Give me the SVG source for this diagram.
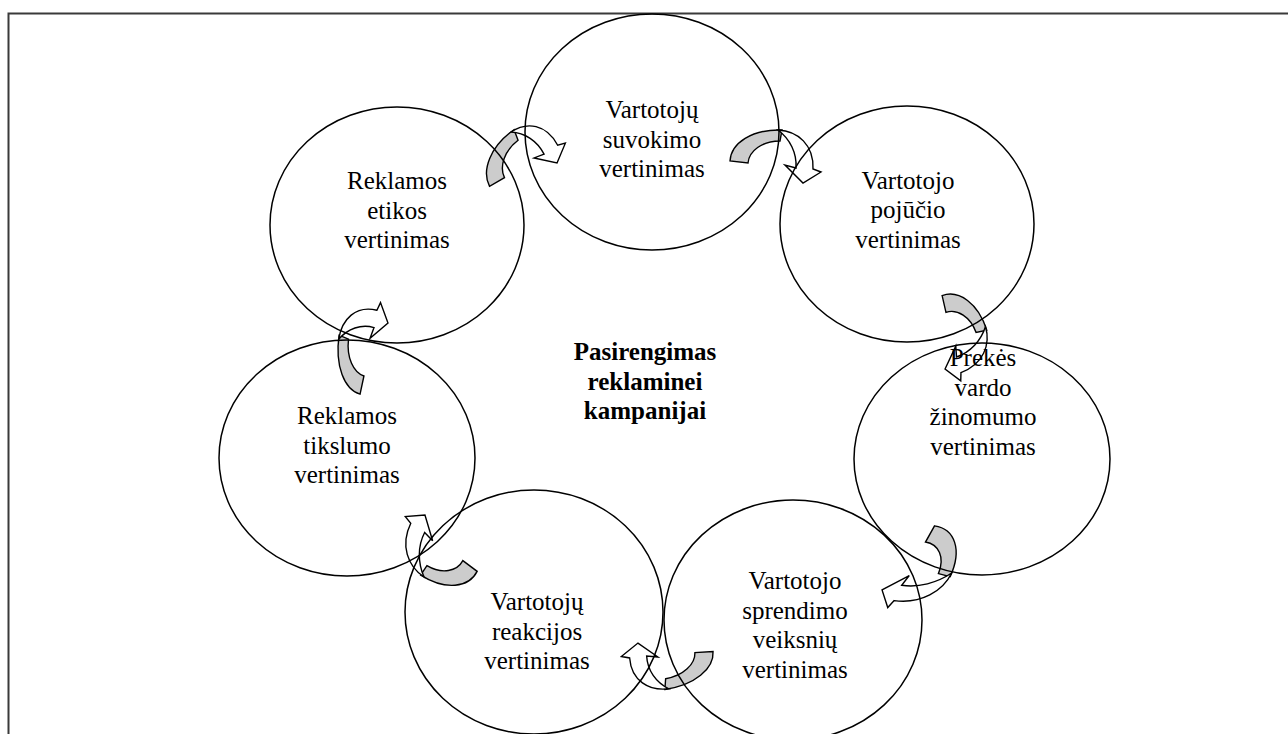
<svg xmlns="http://www.w3.org/2000/svg" xmlns:xlink="http://www.w3.org/1999/xlink" width="1288" height="734" viewBox="0 0 1288 734">
<style>
.node ellipse{fill:none;stroke:#000;stroke-width:1.5}
text{font-family:'Liberation Serif','Tinos','Times New Roman','DejaVu Serif',serif;font-size:25px;fill:#000;text-anchor:middle}
.ctr{font-weight:bold}
.back{fill:#cccccc;stroke:#000;stroke-width:1.4;vector-effect:non-scaling-stroke}
.front{fill:#ffffff;stroke:#000;stroke-width:1.4;vector-effect:non-scaling-stroke}
</style>
<defs>
<g id="carrow">
<path class="back" d="M0,32 C1,14 22,0 52,1 L50,12 C32,12 19,22 18,34 Z"/>
<path class="front" d="M48,1 C68,2 84,16 83,40 L91,43 L73,54 L55,36 L66,39 C67,24 60,10 48,1 Z"/>
</g>
</defs>
<rect width="1288" height="734" fill="#fff"/>
<g id="frame" fill="none" stroke="#3a3a3a" stroke-width="2">
<path d="M8.5,734 L8.5,13.5 L1288,13.5"/>
</g>
<g id="connectors">
<use xlink:href="#carrow" transform="matrix(0.772,-0.578,0.505,0.857,473.4,158.9)"/>
<use xlink:href="#carrow" transform="matrix(1,0,0,1,730,129)"/>
<use xlink:href="#carrow" transform="matrix(0.315,0.891,-0.912,0.380,971.3,283.4)"/>
<use xlink:href="#carrow" transform="matrix(-0.377,0.911,-1.136,-0.110,970.9,529.4)"/>
<use xlink:href="#carrow" transform="matrix(-0.994,0.169,-0.114,-0.942,716.7,681.6)"/>
<use xlink:href="#carrow" transform="matrix(-0.839,-0.488,0.413,-0.940,463.9,601.4)"/>
<use xlink:href="#carrow" transform="matrix(0.119,-1.027,0.875,0.178,332.05,388.4)"/>
</g>
<g id="n1" class="node" font-family="Liberation Serif, serif"><ellipse cx="652" cy="132" rx="127" ry="118"/>
<text x="652" y="118">Vartotojų</text><text x="652" y="148">suvokimo</text><text x="652" y="177">vertinimas</text></g>
<g id="n2" class="node" font-family="Liberation Serif, serif"><ellipse cx="907" cy="224" rx="127" ry="118"/>
<text x="908" y="189">Vartotojo</text><text x="908" y="218">pojūčio</text><text x="908" y="248">vertinimas</text></g>
<g id="n3" class="node" font-family="Liberation Serif, serif"><ellipse cx="982" cy="459" rx="128" ry="116"/>
<text x="983" y="366">Prekės</text><text x="983" y="396">vardo</text><text x="983" y="425">žinomumo</text><text x="983" y="455">vertinimas</text></g>
<g id="n4" class="node" font-family="Liberation Serif, serif"><ellipse cx="793" cy="620" rx="129" ry="120"/>
<text x="795" y="589">Vartotojo</text><text x="795" y="619">sprendimo</text><text x="795" y="648">veiksnių</text><text x="795" y="678">vertinimas</text></g>
<g id="n5" class="node" font-family="Liberation Serif, serif"><ellipse cx="534" cy="612" rx="129" ry="122"/>
<text x="537" y="610">Vartotojų</text><text x="537" y="640">reakcijos</text><text x="537" y="669">vertinimas</text></g>
<g id="n6" class="node" font-family="Liberation Serif, serif"><ellipse cx="347" cy="458" rx="128" ry="118"/>
<text x="347" y="424">Reklamos</text><text x="347" y="454">tikslumo</text><text x="347" y="483">vertinimas</text></g>
<g id="n7" class="node" font-family="Liberation Serif, serif"><ellipse cx="397" cy="225" rx="127" ry="118"/>
<text x="397" y="189">Reklamos</text><text x="397" y="219">etikos</text><text x="397" y="248">vertinimas</text></g>
<g id="center">
<text class="ctr" x="645" y="360">Pasirengimas</text><text class="ctr" x="645" y="390">reklaminei</text><text class="ctr" x="645" y="419">kampanijai</text>
</g>
</svg>
